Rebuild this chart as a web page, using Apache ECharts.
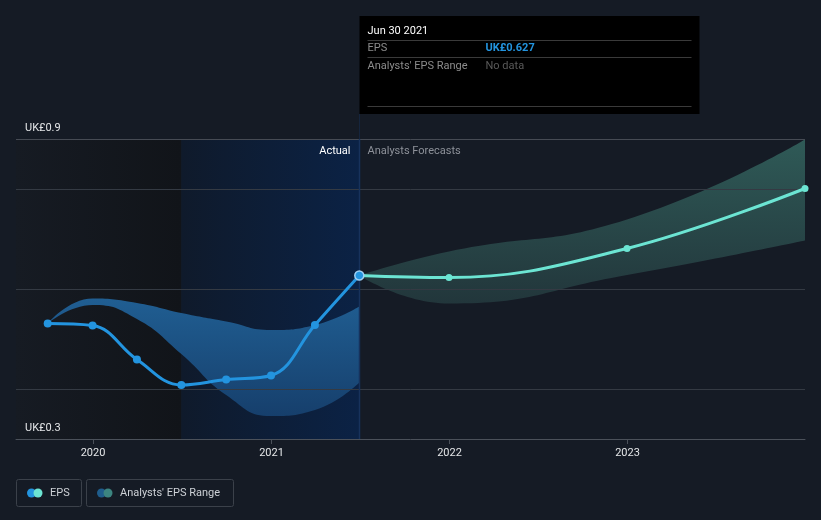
<!DOCTYPE html>
<html><head><meta charset="utf-8">
<script src="https://cdn.jsdelivr.net/npm/echarts@6/dist/echarts.min.js"></script>
<style>html,body{margin:0;padding:0;background:#151b25;}#c{width:821px;height:520px;}</style>
</head><body><div id="c"></div>
<script>
// ---- data ----
const actualDates = ['2019-09-30','2019-12-31','2020-03-31','2020-06-30','2020-09-30','2020-12-31','2021-03-31','2021-06-30'];
const actualEps   = [0.531, 0.527, 0.459, 0.408, 0.419, 0.427, 0.528, 0.627];
const pastRangeLow  = [0.531, 0.568, 0.540, 0.470, 0.388, 0.346, 0.358, 0.413];
const pastRangeHigh = [0.531, 0.581, 0.572, 0.552, 0.535, 0.518, 0.528, 0.565];
const forecastDates = ['2021-06-30','2021-12-31','2022-12-31','2023-12-31'];
const forecastEps   = [0.627, 0.623, 0.681, 0.801];
const fcRangeLow    = [0.627, 0.571, 0.628, 0.697];
const fcRangeHigh   = [0.627, 0.675, 0.739, 0.899];
const yearTicks = ['2020-01-01','2021-01-01','2022-01-01','2023-01-01'];
const gridValues = [0.4, 0.6, 0.8, 0.9];
const xMin = '2019-07-27', xMax = '2023-12-31';
const yMin = 0.3, yMax = 0.9, yLabelStep = 0.3;
const highlightDate = '2021-06-30';
const splitDate = '2020-06-30';

const ts = d => { const p = d.split('-').map(Number); return new Date(p[0], p[1]-1, p[2]).getTime(); };
const pairs = (ds, vs) => ds.map((d,i) => [ts(d), vs[i]]);
// value first, time second: lets the stack sum the value dimension
const vpairs = (ds, vs) => ds.map((d,i) => [vs[i], ts(d)]);
const FONT = 'Roboto';

const chart = echarts.init(document.getElementById('c'), null, {renderer:'canvas'});
const lin = (c0, c1, vertical) => new echarts.graphic.LinearGradient(0, 0, vertical?0:1, vertical?1:0, [{offset:0,color:c0},{offset:1,color:c1}]);

const actualData = pairs(actualDates, actualEps).map((p,i,a) => i === a.length-1
  ? {value:p, symbolSize:9, itemStyle:{color:'#2394df', borderColor:'#9fd0f4', borderWidth:1.5}} : p);
const forecastData = pairs(forecastDates, forecastEps).map((p,i) => i === 0 ? {value:p, symbol:'none'} : p);
const bandBase = {type:'line', symbol:'none', smooth:0.5, silent:true, z:2, encode:{x:1, y:0}, lineStyle:{opacity:0}};

chart.setOption({
  backgroundColor: '#151b25',
  animation: false,
  textStyle: {fontFamily: FONT},
  grid: {left:16, right:16, top:139, bottom:81, containLabel:false},
  xAxis: {
    type:'value', min: ts(xMin), max: ts(xMax),
    axisLine:{lineStyle:{color:'#4b515a', width:1}},
    axisTick:{show:true, length:5, lineStyle:{color:'#4b515a'}, customValues: yearTicks.map(ts)},
    axisLabel:{color:'#e4e6e8', fontSize:11, fontFamily:FONT, margin:9, customValues: yearTicks.map(ts),
      formatter: v => String(new Date(v).getFullYear())},
    splitLine:{show:false}
  },
  yAxis: {
    type:'value', min:yMin, max:yMax, interval:yLabelStep, z:10,
    axisLine:{show:false}, axisTick:{show:false}, splitLine:{show:false},
    axisLabel:{inside:true, margin:9, color:'#e4e6e8', fontSize:11, fontFamily:FONT, verticalAlign:'bottom', padding:[0,0,5,0],
      formatter: v => (Math.abs(v-yMin) < 1e-6 || Math.abs(v-yMax) < 1e-6) ? 'UK£' + v.toFixed(1) : ''}
  },
  series: [
    { name:'bg', type:'line', data: pairs(actualDates, actualEps), symbol:'none', lineStyle:{opacity:0}, silent:true, z:1,
      markArea:{silent:true, z:1, data:[
        [{xAxis: ts(xMin), itemStyle:{color: lin('#161b23', '#111419', false)}}, {xAxis: ts(splitDate)}],
        [{xAxis: ts(splitDate), itemStyle:{color: lin('#0f1a2b', '#0b2245', false)}}, {xAxis: ts(highlightDate)}]
      ]}
    },
    Object.assign({name:'pastLow', stack:'past', data: vpairs(actualDates, pastRangeLow)}, bandBase),
    Object.assign({name:'pastDiff', stack:'past', data: vpairs(actualDates, pastRangeHigh.map((h,i)=>h-pastRangeLow[i])),
      areaStyle:{color: lin('#205e92', '#163f6c', true), opacity:1}}, bandBase),
    Object.assign({name:'fcLow', stack:'fc', data: vpairs(forecastDates, fcRangeLow)}, bandBase),
    Object.assign({name:'fcDiff', stack:'fc', data: vpairs(forecastDates, fcRangeHigh.map((h,i)=>h-fcRangeLow[i])),
      areaStyle:{color: lin('#2f5a57', '#22363b', true), opacity:1}}, bandBase),
    { name:'grid', type:'line', data: pairs(actualDates, actualEps), symbol:'none', lineStyle:{opacity:0}, silent:true, z:3,
      markLine:{silent:true, z:3, symbol:['none','none'], label:{show:false},
        data: gridValues.map(v => ({yAxis:v, lineStyle:{color: v===yMax ? '#464b54' : '#343a43', width:1, type:'solid'}}))}
    },
    { name:'EPS forecast', type:'line', data: forecastData, smooth:0.4, symbol:'circle', symbolSize:7,
      itemStyle:{color:'#6ce5d3'}, lineStyle:{color:'#6ce5d3', width:3}, z:4 },
    { name:'EPS', type:'line', data: actualData, smooth:0.4, symbol:'circle', symbolSize:8,
      itemStyle:{color:'#2394df'}, lineStyle:{color:'#2394df', width:3}, z:5 }
  ]
});

// overlay decorations positioned through the chart's own scales
const hx = Math.round(chart.convertToPixel({xAxisIndex:0}, ts(highlightDate))) + 0.5;
const yTop = chart.convertToPixel({yAxisIndex:0}, yMax);
const yBot = chart.convertToPixel({yAxisIndex:0}, yMin);
const lastEps = actualEps[actualEps.length-1];
const tipW = 340, tipTop = 16, tipH = 98;
const T = (x, y, text, fill, extra) => Object.assign({type:'text', x, y, z:20,
  style:Object.assign({text, fill, font:'11px ' + FONT, textVerticalAlign:'middle'}, extra||{})});
const L = (x1, y1, x2, y2, c) => ({type:'line', z:20, shape:{x1,y1,x2,y2}, style:{stroke:c, lineWidth:1}});
chart.setOption({ graphic: [
  {type:'line', z:3, shape:{x1:hx, y1:yTop, x2:hx, y2:yBot}, style:{stroke:'#17325c', lineWidth:1.5}},
  {type:'line', z:3, shape:{x1:hx, y1:tipTop+tipH, x2:hx, y2:yTop}, style:{stroke:'#15253d', lineWidth:1}},
  {type:'rect', z:19, shape:{x:hx, y:tipTop, width:tipW, height:tipH}, style:{fill:'#000000'}},
  T(hx+8, tipTop+15, 'Jun 30 2021', '#ffffff'),
  L(hx+8, tipTop+24.5, hx+tipW-8, tipTop+24.5, '#3a3a3a'),
  T(hx+8, tipTop+32, 'EPS', '#8c8c8c'),
  T(hx+126, tipTop+32, 'UK£' + lastEps.toFixed(3), '#2394df', {font:'bold 11px ' + FONT}),
  L(hx+8, tipTop+41.5, hx+tipW-8, tipTop+41.5, '#3a3a3a'),
  T(hx+8, tipTop+50, "Analysts' EPS Range", '#8c8c8c'),
  T(hx+126, tipTop+50, 'No data', '#5a5a5a'),
  L(hx+8, tipTop+90.5, hx+tipW-8, tipTop+90.5, '#3a3a3a'),
  T(hx-9, yTop+12, 'Actual', '#ffffff', {textAlign:'right'}),
  T(hx+8, yTop+12, 'Analysts Forecasts', '#8d9199'),
  // legend
  {type:'rect', z:20, shape:{x:16.5, y:479.5, width:65, height:27, r:2}, style:{fill:'none', stroke:'#3b414a', lineWidth:1}},
  {type:'circle', z:20, shape:{cx:31.5, cy:493, r:4.5}, style:{fill:'#2394df'}},
  {type:'circle', z:21, shape:{cx:38, cy:493, r:4.5}, style:{fill:'#6ce5d3'}},
  T(50, 493, 'EPS', '#cdd1d6'),
  {type:'rect', z:20, shape:{x:86.5, y:479.5, width:147, height:27, r:2}, style:{fill:'none', stroke:'#3b414a', lineWidth:1}},
  {type:'circle', z:20, shape:{cx:101.5, cy:493, r:4.5}, style:{fill:'#1f5d8c'}},
  {type:'circle', z:21, shape:{cx:108, cy:493, r:4.5}, style:{fill:'#3c8580'}},
  T(120, 493, "Analysts' EPS Range", '#cdd1d6')
]});
</script></body></html>
